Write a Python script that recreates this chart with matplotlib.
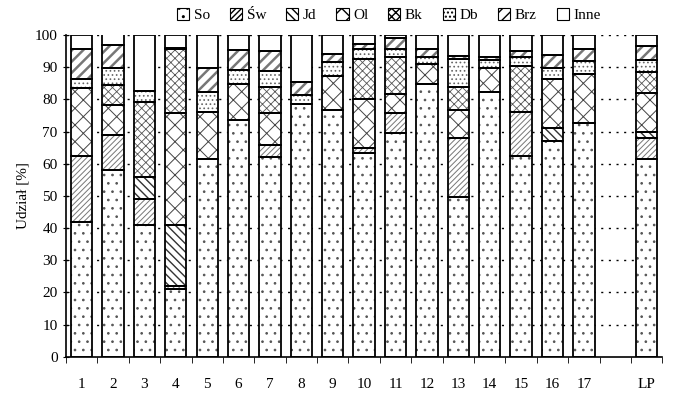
import numpy as np
import matplotlib
matplotlib.use("Agg")
import matplotlib.pyplot as plt
from matplotlib.patches import Patch

plt.rcParams["font.family"] = ["Liberation Serif", "DejaVu Serif"]

# Data (shares in %)
categories = ["1", "2", "3", "4", "5", "6", "7", "8", "9", "10",
              "11", "12", "13", "14", "15", "16", "17", "LP"]
positions = list(range(1, 18)) + [19]
species = ["So", "Św", "Jd", "Ol", "Bk", "Db", "Brz", "Inne"]

so = [42.0, 57.9, 41.0, 21.0, 61.4, 73.6, 62.2, 78.6, 76.7, 63.2,
      69.7, 84.7, 49.8, 82.2, 62.4, 67.2, 72.6, 61.4]
sw = [20.4, 11.0, 8.0, 1.0, 0, 0, 3.6, 0, 0, 1.6,
      6.0, 0, 18.1, 0, 13.6, 0, 0, 6.5]
jd = [0, 0, 6.8, 19.0, 0, 0, 0, 0, 0, 0,
      0, 0, 0, 0, 0, 3.8, 0, 2.1]
ol = [21.2, 9.2, 0, 34.7, 14.6, 11.1, 10.1, 0, 10.6, 15.2,
      6.0, 6.3, 8.8, 7.5, 0, 15.2, 15.2, 12.1]
bk = [0, 6.4, 23.3, 19.8, 0, 0, 7.9, 0, 0, 12.4,
      11.4, 0, 7.0, 0, 14.5, 0, 0, 6.4]
db = [2.6, 5.2, 3.5, 0.2, 6.4, 4.4, 5.0, 2.8, 4.2, 3.2,
      2.5, 2.3, 8.7, 2.5, 2.6, 3.5, 4.2, 3.8]
brz = [9.4, 7.2, 0, 0.3, 7.2, 6.2, 6.3, 3.9, 2.6, 1.6,
       3.4, 2.3, 1.1, 1.1, 2.0, 4.1, 3.5, 4.3]
inne = [4.4, 3.6, 17.4, 4.0, 10.4, 4.7, 4.9, 14.7, 5.9, 2.8,
        1.0, 4.4, 6.5, 6.7, 4.9, 6.2, 4.5, 3.3]

layers = [so, sw, jd, ol, bk, db, brz, inne]
hatches = ["..", "//////", "\\\\\\\\", "xx", "xxxx", "....", "///", ""]
hatch_colors = ["#555555", "#777777", "#333333", "#444444",
                "#555555", "#666666", "#777777", "white"]
hatch_widths = [0.7, 0.7, 1.0, 0.7, 0.6, 0.7, 1.8, 0.7]


def set_hw(patch, hw):
    # hatch line width per patch, where the matplotlib version allows it
    if hasattr(patch, "set_hatch_linewidth"):
        patch.set_hatch_linewidth(hw)


fig = plt.figure(figsize=(6.8, 3.93), dpi=100)
ax = fig.add_axes([0.097, 0.092, 0.877, 0.819])

# dotted grid behind the bars
for v in range(10, 101, 10):
    ax.axhline(v, color="black", linestyle=(0, (1.5, 4)), linewidth=1.0, zorder=0)

width = 0.68
bottom = np.zeros(len(positions))
for vals, h, hc, hw in zip(layers, hatches, hatch_colors, hatch_widths):
    vals = np.array(vals)
    # hatch fill
    bars = ax.bar(positions, vals, width, bottom=bottom, color="white",
                  edgecolor=hc, hatch=h, linewidth=0, zorder=2)
    for b in bars:
        set_hw(b, hw)
    # black outline
    ax.bar(positions, vals, width, bottom=bottom, fill=False,
           edgecolor="black", linewidth=1.3, zorder=3)
    bottom += vals

ax.set_xlim(0.5, 19.5)
ax.set_ylim(0, 100)
ax.set_yticks(range(0, 101, 10))
ax.set_xticks(positions)
ax.set_xticklabels(categories)
ax.set_xticks(np.arange(0.5, 20, 1.0), minor=True)
ax.tick_params(axis="x", which="major", length=0, pad=15, labelsize=11)
ax.tick_params(axis="x", which="minor", length=4, direction="out")
ax.tick_params(axis="y", length=5, direction="inout", labelsize=11)
ax.set_ylabel("Udział [%]", fontsize=11)

for s in ["top", "right"]:
    ax.spines[s].set_visible(False)
ax.spines["left"].set_linewidth(1.2)
ax.spines["bottom"].set_linewidth(1.2)

handles = []
for h, hw in zip(hatches, hatch_widths):
    p = Patch(facecolor="white", edgecolor="black", hatch=h, linewidth=0.8)
    set_hw(p, min(hw, 1.0))
    handles.append(p)
fig.legend(handles, species, loc="upper center", bbox_to_anchor=(0.572, 1.015),
           ncol=8, frameon=False, fontsize=11, handlelength=0.8,
           handleheight=0.8, handletextpad=0.3, columnspacing=1.3)

fig.savefig("out.png", dpi=100)
